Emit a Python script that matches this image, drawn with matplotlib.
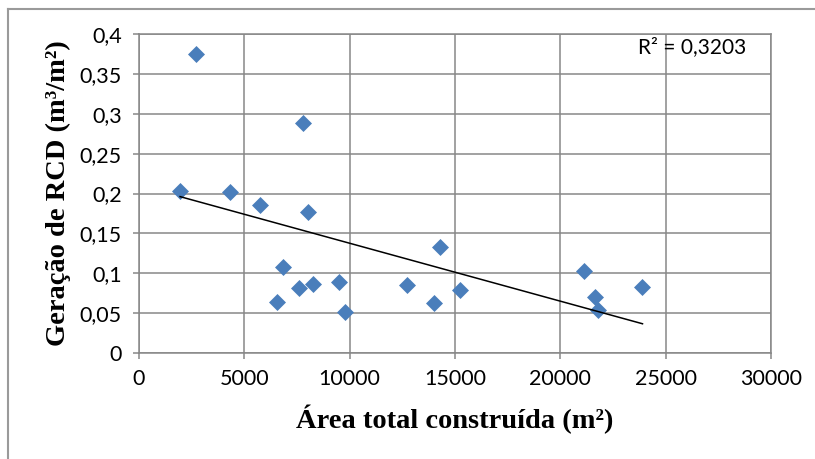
import numpy as np
import matplotlib
matplotlib.use("Agg")
import matplotlib.pyplot as plt
from matplotlib.lines import Line2D
from matplotlib.ticker import FuncFormatter

# Built area of each site (m²) and its construction-waste generation (m³/m²)
area = [2700, 1950, 4300, 5750, 7800, 8000, 6850, 6550, 7600, 8250,
        9500, 9800, 12700, 14000, 14300, 15250, 21100, 21650, 21800, 23900]
rcd = [0.375, 0.203, 0.202, 0.186, 0.288, 0.177, 0.108, 0.064, 0.081, 0.086,
       0.089, 0.051, 0.085, 0.063, 0.133, 0.079, 0.103, 0.070, 0.054, 0.083]

x_ticks = [0, 5000, 10000, 15000, 20000, 25000, 30000]
y_ticks = [0, 0.05, 0.1, 0.15, 0.2, 0.25, 0.3, 0.35, 0.4]
r2_label = "R² = 0,3203"

grid_col = "#878787"
marker_col = "#4A7EBB"
tick_font = "Lato"
title_font = "Liberation Serif"

fig = plt.figure(figsize=(8.15, 4.59), dpi=100)
ax = fig.add_axes([139 / 815, 1 - 353 / 459, (771 - 139) / 815, (353 - 34) / 459])

ax.set_xlim(0, 30000)
ax.set_ylim(0, 0.4)
ax.set_xticks(x_ticks)
ax.set_yticks(y_ticks)
ax.xaxis.set_major_formatter(FuncFormatter(lambda v, p: f"{int(v)}"))
ax.yaxis.set_major_formatter(
    FuncFormatter(lambda v, p: f"{v:.2f}".rstrip("0").rstrip(".").replace(".", ",")))

ax.grid(True, color=grid_col, linewidth=1.1)
ax.set_axisbelow(True)
for s in ax.spines.values():
    s.set_color(grid_col)
    s.set_linewidth(1.1)
ax.tick_params(axis="both", direction="out", length=4.5, width=1.1, color=grid_col,
               labelsize=15.5)
ax.tick_params(axis="x", pad=7)
ax.tick_params(axis="y", pad=8)
for lab in ax.get_xticklabels() + ax.get_yticklabels():
    lab.set_fontfamily(tick_font)

# Points
ax.scatter(area, rcd, marker="D", s=75, color=marker_col, linewidths=0, zorder=3)

# Linear trend line over the range of the data
a = np.asarray(area, dtype=float)
b = np.asarray(rcd, dtype=float)
slope, intercept = np.polyfit(a, b, 1)
xs = np.array([a.min(), a.max()])
ax.plot(xs, slope * xs + intercept, color="black", linewidth=1.1, zorder=4)

ax.text(23680, 0.384, r2_label, fontsize=15, fontfamily=tick_font,
        va="center", ha="left", zorder=5)

ax.set_xlabel("Área total construída (m²)", fontsize=20.5, fontweight="bold",
              fontfamily=title_font, labelpad=11)
ax.set_ylabel("Geração de RCD (m³/m²)", fontsize=20.5, fontweight="bold",
              fontfamily=title_font, labelpad=6)

# Outer chart frame (left and top edges)
fig.add_artist(Line2D([7.5 / 815, 7.5 / 815], [0, 1 - 8.5 / 459],
                      transform=fig.transFigure, color="#9a9a9a", linewidth=1.5))
fig.add_artist(Line2D([7.5 / 815, 1], [1 - 8.5 / 459, 1 - 8.5 / 459],
                      transform=fig.transFigure, color="#9a9a9a", linewidth=1.5))

fig.savefig("out.png", dpi=100)
